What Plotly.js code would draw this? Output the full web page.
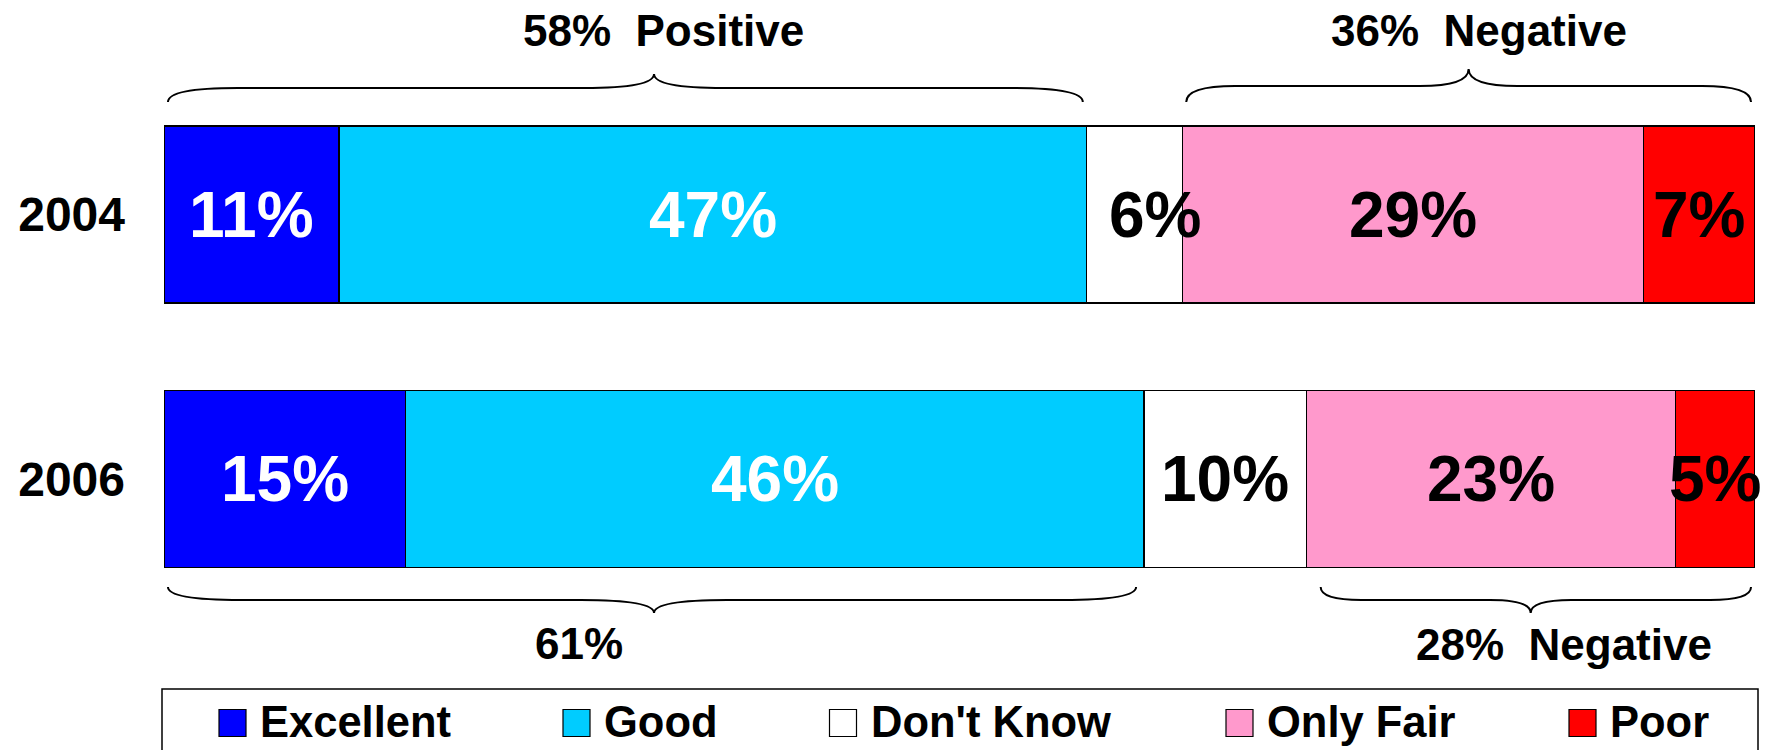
<!DOCTYPE html>
<html>
<head>
<meta charset="utf-8">
<script src="https://cdn.plot.ly/plotly-3.0.1.min.js"></script>
<style>html,body{margin:0;padding:0;background:#fff;}#chart{width:1769px;height:750px;}</style>
</head>
<body>
<div id="chart"></div>
<script>
// ---- Data ----
const categories = ['2004', '2006'];
const seriesNames = ['Excellent', 'Good', "Don't Know", 'Only Fair', 'Poor'];
const excellent = [11, 15.2];
const good = [47, 46.4];
const dontKnow = [6, 10.2];
const onlyFair = [29, 23.2];
const poor = [7, 5.0];
const positiveGroup = ['Excellent', 'Good'];
const negativeGroup = ['Only Fair', 'Poor'];

// ---- Styling ----
const seriesValues = [excellent, good, dontKnow, onlyFair, poor];
const colors = ['#0000FF', '#00CCFF', '#FFFFFF', '#FF99CC', '#FF0000'];
const textColors = ['#FFFFFF', '#FFFFFF', '#000000', '#000000', '#000000'];
const FONT = 'Liberation Sans, Arial, Helvetica, sans-serif';

const W = 1769, H = 750;
const M = {l: 164, r: 14, t: 0, b: 70};
const plotW = W - M.l - M.r, plotH = H - M.t - M.b;
const pxPerUnit = plotW / 100;
const px2paper = px => (px - M.l) / plotW;
const py2paper = py => (plotH + M.t - py) / plotH;

const traces = seriesNames.map((name, i) => ({
  type: 'bar',
  orientation: 'h',
  name: name,
  y: categories,
  x: seriesValues[i],
  marker: {color: colors[i], line: {color: '#000000', width: 1.2}},
  hoverinfo: 'name+x'
}));

// cumulative positions
function cumStart(i, j) {
  let s = 0;
  for (let k = 0; k < i; k++) s += seriesValues[k][j];
  return s;
}

const annotations = [];
const labelNudges = {"Don't Know|2004": 21};
seriesNames.forEach((name, i) => {
  categories.forEach((cat, j) => {
    const v = seriesValues[i][j];
    annotations.push({
      x: cumStart(i, j) + v / 2, y: j, xref: 'x', yref: 'y',
      text: Math.round(v) + '%', showarrow: false,
      xanchor: 'center', yanchor: 'middle', borderpad: 0,
      xshift: labelNudges[name + '|' + cat] || 0,
      font: {family: FONT, size: 64, weight: 'bold', color: textColors[i]}
    });
  });
});

function groupSpan(group, j) {
  const idx = group.map(g => seriesNames.indexOf(g));
  const start = cumStart(Math.min(...idx), j);
  let end = start;
  idx.forEach(k => end += seriesValues[k][j]);
  const pct = idx.reduce((a, k) => a + Math.round(seriesValues[k][j]), 0);
  return {start, end, pct};
}

function bracePath(x0, x1, xt, yEnd, yLine, yTip) {
  const wpx = (x1 - x0) * pxPerUnit;
  const c = (0.06 * wpx + 15) / pxPerUnit;
  const Y = py => py2paper(py).toFixed(5);
  return `M ${x0},${Y(yEnd)} Q ${x0},${Y(yLine)} ${x0 + c},${Y(yLine)} ` +
         `L ${xt - c},${Y(yLine)} Q ${xt},${Y(yLine)} ${xt},${Y(yTip)} ` +
         `Q ${xt},${Y(yLine)} ${xt + c},${Y(yLine)} ` +
         `L ${x1 - c},${Y(yLine)} Q ${x1},${Y(yLine)} ${x1},${Y(yEnd)}`;
}

const inset = 0.25;
const pos04 = groupSpan(positiveGroup, 0), neg04 = groupSpan(negativeGroup, 0);
const pos06 = groupSpan(positiveGroup, 1), neg06 = groupSpan(negativeGroup, 1);
const shapes = [];
const braceLine = {color: '#000000', width: 2};
// 2004 (above)
shapes.push({type: 'path', xref: 'x', yref: 'paper', line: braceLine,
  path: bracePath(pos04.start + inset, pos04.end - inset, (pos06.start + pos06.end) / 2, 102, 88, 74)});
shapes.push({type: 'path', xref: 'x', yref: 'paper', line: braceLine,
  path: bracePath(neg04.start + inset, neg04.end - inset, (neg04.start + neg04.end) / 2, 102, 86, 69)});
// 2006 (below)
shapes.push({type: 'path', xref: 'x', yref: 'paper', line: braceLine,
  path: bracePath(pos06.start + inset, pos06.end - 0.5, (pos06.start + pos06.end) / 2, 587, 600, 613)});
shapes.push({type: 'path', xref: 'x', yref: 'paper', line: braceLine,
  path: bracePath(neg06.start + 0.9, neg06.end - inset, (neg06.start + neg06.end) / 2, 587, 600, 613)});

const NB = '\u00a0\u00a0';
const braceLabels = [
  {text: pos04.pct + '%' + NB + 'Positive', cx: 663, cy: 31},
  {text: neg04.pct + '%' + NB + 'Negative', cx: 1479, cy: 31},
  {text: pos06.pct + '%', cx: 579, cy: 643},
  {text: neg06.pct + '%' + NB + 'Negative', cx: 1564, cy: 644}
];
braceLabels.forEach(b => annotations.push({
  x: px2paper(b.cx), y: py2paper(b.cy), xref: 'paper', yref: 'paper',
  text: b.text, showarrow: false, xanchor: 'center', yanchor: 'middle', borderpad: 0,
  font: {family: FONT, size: 44, weight: 'bold', color: '#000000'}
}));

// custom legend
shapes.push({type: 'rect', xref: 'paper', yref: 'paper',
  x0: px2paper(162), x1: px2paper(1758), y0: py2paper(689), y1: py2paper(770),
  line: {color: '#000000', width: 1.5}, fillcolor: 'rgba(0,0,0,0)'});
const legendX = [219, 563, 829.5, 1226, 1569];
seriesNames.forEach((name, i) => {
  shapes.push({type: 'rect', xref: 'paper', yref: 'paper',
    x0: px2paper(legendX[i]), x1: px2paper(legendX[i] + 27),
    y0: py2paper(709.5), y1: py2paper(736.5),
    fillcolor: colors[i], line: {color: '#000000', width: 1.2}});
  annotations.push({
    x: px2paper(legendX[i] + 40), y: py2paper(722), xref: 'paper', yref: 'paper',
    text: name, showarrow: false, xanchor: 'left', yanchor: 'middle', borderpad: 0,
    font: {family: FONT, size: 43.5, weight: 'bold', color: '#000000'}
  });
});

const unit = 264.5;
const yTop = -214.5 / unit;
const yBot = yTop + plotH / unit;

const layout = {
  width: W, height: H,
  margin: M,
  paper_bgcolor: '#FFFFFF', plot_bgcolor: '#FFFFFF',
  barmode: 'stack', bargap: 0.331,
  showlegend: false,
  xaxis: {range: [0, 100], visible: false, fixedrange: true},
  yaxis: {type: 'category', range: [yBot, yTop], showgrid: false, zeroline: false,
    showline: false, ticks: '', ticklabelstandoff: 38, fixedrange: true,
    tickfont: {family: FONT, size: 48, weight: 'bold', color: '#000000'}},
  shapes: shapes,
  annotations: annotations,
  font: {family: FONT}
};

Plotly.newPlot('chart', traces, layout, {displayModeBar: false, staticPlot: true});
</script>
</body>
</html>
